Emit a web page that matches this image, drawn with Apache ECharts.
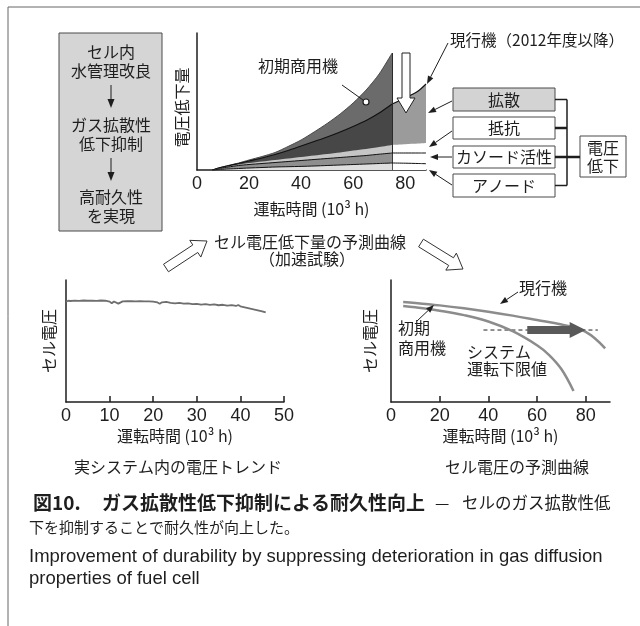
<!DOCTYPE html>
<html><head><meta charset="utf-8">
<script src="https://cdn.jsdelivr.net/npm/echarts@6/dist/echarts.min.js"></script>
<style>html,body{margin:0;padding:0;background:#fff}#c{width:640px;height:626px}</style>
</head><body><div id="c"></div>
<script>
// ---------------- data ----------------
// top chart: voltage drop components (arbitrary units) vs operating time (10^3 h)
const topTickLabels = [0, 20, 40, 60, 80];
const topTickMarks = [20, 40, 60, 80];
const initX      = [6, 9, 12, 16, 20, 25, 30, 35, 40, 45, 50, 55, 60, 65, 70, 75];
const initTotal  = [0, 2.5, 4.5, 7, 10, 13.5, 17.5, 23.5, 30, 38, 46.5, 56, 67, 80, 96, 117];
const initDiff   = [0, 2.3, 4.2, 6.5, 9, 12, 15.5, 19.5, 24, 28.5, 33, 38, 43.5, 49.5, 57, 66];
const initRes    = [0, 2, 3.5, 5.5, 7, 8.5, 10, 11.5, 13, 14.5, 16, 17.5, 19.5, 21, 23, 25];
const initCath   = [0, 1.8, 3, 4.5, 5.5, 6.5, 7.5, 8.5, 9.5, 10.5, 11.5, 12.5, 13.5, 14.5, 15.8, 17];
const initAnode  = [0, 0.6, 1, 1.5, 2, 2.5, 3, 3.3, 3.6, 4, 4.5, 5, 5.5, 6, 6.5, 7];
const curX       = [75, 80, 85, 88];
const curDiff    = [66, 72, 79, 86];
const curRes     = [25, 25.7, 26.4, 27];
const curCath    = [17, 17, 17, 17];
const curAnode   = [7, 6.8, 6.5, 6.3];
const splitX     = 75;

// bottom-left: measured cell voltage trend in real system
const bottomLeftTicks = [0, 10, 20, 30, 40, 50];
const trendX = [0,0.5,1,2,3,4,5,6,7,8,9,10,10.5,11,12,13,14,15,16,17,18,19,20,21,21.5,22,23,24,25,26,27,28,29,30,31,32,33,34,35,36,37,38,39,39.5,40,41,42,43,44,45,45.8];
const trendY = [82.2,83.0,82.8,83.1,82.9,83.2,83.0,83.1,82.9,83.2,83.0,82.3,80.9,82.4,80.6,82.5,82.7,82.6,82.5,82.6,82.4,82.5,82.3,81.6,80.6,81.7,82.0,81.3,80.9,81.2,80.6,80.9,80.3,80.5,79.8,80.2,79.6,80.0,79.3,79.7,79.0,79.4,78.7,79.5,78.4,77.6,76.8,76.0,75.2,74.3,73.4];

// bottom-right: predicted cell voltage curves
const bottomRightTicks = [0, 20, 40, 60, 80];
const predCurX   = [5, 10, 20, 30, 40, 50, 60, 70, 80, 88];
const predCurY   = [82, 81.2, 79.2, 76.8, 74, 70.8, 67.2, 63.5, 57.5, 44];
const predInitX  = [5, 10, 20, 30, 40, 50, 60, 65, 70, 75];
const predInitY  = [78.7, 77.6, 74.8, 71.2, 66, 58, 46.5, 38.5, 27, 9];
const limitY     = 59;
const limitXRange = [38, 85];
const shiftArrowX = [56, 80];

// ---------------- helpers ----------------
const JP = '"Noto Sans CJK JP", sans-serif';
const NUM = '"Liberation Sans", "Noto Sans CJK JP", sans-serif';
const INK = '#1e1e1e';
const pairs = (xs, ys) => xs.map((x, i) => [x, ys[i]]);

function areaSeries(xs, ys, fill, lineColor, lineWidth, z) {
  return {
    type: 'line', xAxisIndex: 0, yAxisIndex: 0, data: pairs(xs, ys),
    symbol: 'none', smooth: 0.25, z: z,
    lineStyle: { color: lineColor, width: lineWidth },
    areaStyle: fill ? { color: fill, opacity: 1 } : undefined,
    silent: true, animation: false
  };
}

function xAxisBase(grid, max, labels, ticks, nameGap) {
  return {
    type: 'value', gridIndex: grid, min: 0, max: max,
    name: '運転時間 (10³ h)', nameLocation: 'middle', nameGap: nameGap,
    nameTextStyle: { fontFamily: JP, fontSize: 16, color: INK },
    axisLine: { show: true, onZero: false, lineStyle: { color: INK, width: 1.5 } },
    axisTick: { show: true, inside: true, length: 6, customValues: ticks, lineStyle: { color: INK, width: 1.5 } },
    axisLabel: { show: true, margin: 5, customValues: labels, fontFamily: NUM, fontSize: 18, color: INK },
    splitLine: { show: false }
  };
}
function yAxisBase(grid, max, name, nameGap, pad) {
  return {
    type: 'value', gridIndex: grid, min: 0, max: max,
    name: name, nameLocation: 'middle', nameGap: nameGap, nameRotate: 90,
    nameTextStyle: { fontFamily: JP, fontSize: 16, color: INK, padding: pad },
    axisLine: { show: true, onZero: false, lineStyle: { color: INK, width: 1.5 } },
    axisTick: { show: false }, axisLabel: { show: false }, splitLine: { show: false }
  };
}

function txt(text, x, y, opt) {
  opt = opt || {};
  return {
    type: 'text', z: 120, silent: true,
    style: {
      text: text, x: x, y: y, fill: opt.fill || INK,
      font: (opt.weight || 'normal') + ' ' + (opt.size || 16) + 'px ' + (opt.family || JP),
      textAlign: opt.align || 'center', textVerticalAlign: 'middle'
    }
  };
}
function line(x1, y1, x2, y2, w, c) {
  return { type: 'line', z: 110, silent: true, shape: { x1, y1, x2, y2 }, style: { stroke: c || INK, lineWidth: w || 1 } };
}
function arrow(x1, y1, x2, y2, hl, hw, c) {
  hl = hl || 8; hw = hw || 3.5; c = c || INK;
  const a = Math.atan2(y2 - y1, x2 - x1), ux = Math.cos(a), uy = Math.sin(a);
  const bx = x2 - hl * ux, by = y2 - hl * uy, nx = -uy * hw, ny = ux * hw;
  return [
    line(x1, y1, bx, by, 1, c),
    { type: 'polygon', z: 111, silent: true, shape: { points: [[x2, y2], [bx + nx, by + ny], [bx - nx, by - ny]] }, style: { fill: c } }
  ];
}
function blockArrow(x1, y1, x2, y2, sw, hw, hl, fill, stroke) {
  const a = Math.atan2(y2 - y1, x2 - x1), ux = Math.cos(a), uy = Math.sin(a), nx = -uy, ny = ux;
  const bx = x2 - hl * ux, by = y2 - hl * uy;
  const p = (x, y, s) => [x + nx * s, y + ny * s];
  return {
    type: 'polygon', z: 115, silent: true,
    shape: { points: [p(x1, y1, sw / 2), p(bx, by, sw / 2), p(bx, by, hw / 2), [x2, y2], p(bx, by, -hw / 2), p(bx, by, -sw / 2), p(x1, y1, -sw / 2)] },
    style: { fill: fill, stroke: stroke || null, lineWidth: stroke ? 1 : 0 }
  };
}
function box(x, y, w, h, fill) {
  return { type: 'rect', z: 105, silent: true, shape: { x, y, width: w, height: h }, style: { fill: fill, stroke: '#4a4a4a', lineWidth: 1 } };
}

// ---------------- chart ----------------
const chart = echarts.init(document.getElementById('c'), null, { renderer: 'canvas' });

const option = {
  animation: false,
  backgroundColor: '#ffffff',
  grid: [
    { left: 197, top: 33, width: 229, height: 137, outerBoundsMode: 'none', containLabel: false },
    { left: 66, top: 280, width: 218, height: 122, outerBoundsMode: 'none', containLabel: false },
    { left: 391, top: 280, width: 219, height: 122, outerBoundsMode: 'none', containLabel: false }
  ],
  xAxis: [
    xAxisBase(0, 88, topTickLabels, topTickMarks, 31),
    xAxisBase(1, 50, bottomLeftTicks, bottomLeftTicks.slice(1), 26),
    xAxisBase(2, 90, bottomRightTicks, bottomRightTicks.slice(1), 26)
  ],
  yAxis: [
    yAxisBase(0, 137, '電圧低下量', 7, [0, 12, 0, 0]),
    yAxisBase(1, 100, 'セル電圧', 9, 0),
    yAxisBase(2, 100, 'セル電圧', 13, 0)
  ],
  series: [
    // initial commercial model region
    areaSeries(initX, initTotal, '#6b6b6b', '#4a4a4a', 1, 2),
    areaSeries(initX, initDiff, '#474747', '#111111', 1.2, 3),
    areaSeries(initX, initRes, '#c6c6c6', '#c6c6c6', 0, 4),
    areaSeries(initX, initCath, '#8f8f8f', '#111111', 1, 5),
    areaSeries(initX, initAnode, '#dedede', '#111111', 1, 6),
    // current model region
    Object.assign(areaSeries(curX, curDiff, '#9b9b9b', '#111111', 1.2, 2), {
      markLine: {
        silent: true, symbol: 'none', label: { show: false },
        lineStyle: { color: '#2a2a2a', width: 1, type: 'solid' },
        data: [[{ coord: [splitX, 0] }, { coord: [splitX, initTotal[initTotal.length - 1]] }]]
      }
    }),
    areaSeries(curX, curRes, '#ffffff', '#9b9b9b', 0, 3),
    areaSeries(curX, curCath, null, '#111111', 1, 5),
    areaSeries(curX, curAnode, null, '#111111', 1, 6),
    // bottom-left trend
    {
      type: 'line', xAxisIndex: 1, yAxisIndex: 1, data: pairs(trendX, trendY),
      symbol: 'none', lineStyle: { color: '#6e6e6e', width: 1.8 }, silent: true, z: 3
    },
    // bottom-right predicted curves
    {
      type: 'line', xAxisIndex: 2, yAxisIndex: 2, data: pairs(predCurX, predCurY),
      symbol: 'none', smooth: 0.4, lineStyle: { color: '#8c8c8c', width: 2.5 }, silent: true, z: 3
    },
    {
      type: 'line', xAxisIndex: 2, yAxisIndex: 2, data: pairs(predInitX, predInitY),
      symbol: 'none', smooth: 0.4, lineStyle: { color: '#8c8c8c', width: 2.5 }, silent: true, z: 3
    },
    {
      type: 'line', xAxisIndex: 2, yAxisIndex: 2, data: [[limitXRange[0], limitY], [limitXRange[1], limitY]],
      symbol: 'none', lineStyle: { color: '#222', width: 1, type: [4, 3] }, silent: true, z: 2
    }
  ]
};
chart.setOption(option);

// annotation graphics
const g = [];
// outer frame
g.push(line(8, 7, 640, 7, 1, '#666'), line(8, 7, 8, 626, 1, '#666'));
// left process box
g.push(box(59, 33, 103, 198, '#d5d5d5'));
g.push(txt('セル内', 111, 52), txt('水管理改良', 111, 71));
g.push(...arrow(111, 85, 111, 108, 9, 3.5));
g.push(txt('ガス拡散性', 111, 125), txt('低下抑制', 111, 144));
g.push(...arrow(111, 158, 111, 181, 9, 3.5));
g.push(txt('高耐久性', 111, 197), txt('を実現', 111, 216));
// top chart labels
g.push(txt('初期商用機', 298, 66));
g.push(line(342, 85, 363, 100, 1));
g.push({ type: 'circle', z: 112, silent: true, shape: { cx: 366, cy: 102, r: 3 }, style: { fill: '#fff', stroke: INK, lineWidth: 1.2 } });
g.push(txt('現行機（2012年度以降）', 537, 40, { size: 15.5 }));
g.push(...arrow(448, 43, 427, 84, 8, 3));
g.push(blockArrow(406, 53, 406, 113, 8, 18, 15, '#ffffff', '#222'));
// component boxes
g.push(box(453, 88, 102, 23, '#d3d3d3'), txt('拡散', 504, 100));
g.push(box(453, 117, 102, 22, '#ffffff'), txt('抵抗', 504, 128));
g.push(box(453, 146, 102, 22, '#ffffff'), txt('カソード活性', 504, 157));
g.push(box(453, 174, 102, 23, '#ffffff'), txt('アノード', 504, 185.5));
g.push(...arrow(452, 101, 428, 113, 8, 3));
g.push(...arrow(452, 131, 429, 147, 8, 3));
g.push(...arrow(452, 157, 430, 157, 8, 3));
g.push(...arrow(452, 185, 429, 170, 8, 3));
// bracket
g.push(line(555, 99.5, 567, 99.5, 1.5), line(567, 99.5, 567, 185.5, 1.5), line(555, 185.5, 567, 185.5, 1.5));
g.push(line(555, 128, 567, 128, 2.5), line(555, 157, 580, 157, 2.5));
g.push(box(580, 136, 46, 41, '#ffffff'), txt('電圧', 603, 148), txt('低下', 603, 166));
// middle texts and block arrows
g.push(txt('セル電圧低下量の予測曲線', 310, 242), txt('（加速試験）', 307, 259));
g.push(blockArrow(166, 268, 207, 241, 9, 20, 14, '#ffffff', '#333'));
g.push(blockArrow(421, 243, 463, 269, 9, 20, 14, '#ffffff', '#333'));
// bottom-left subtitle
g.push(txt('実システム内の電圧トレンド', 178, 467));
// bottom-right annotations
g.push(txt('現行機', 543, 288));
g.push(...arrow(518, 292, 500, 304, 8, 3));
g.push(txt('初期', 398, 328, { align: 'left' }), txt('商用機', 398, 348, { align: 'left' }));
g.push(...arrow(417, 321, 434, 305, 8, 3));
g.push(txt('システム', 467, 352, { align: 'left' }), txt('運転下限値', 467, 369, { align: 'left' }));
g.push(txt('セル電圧の予測曲線', 517, 467));
// thick shift arrow on the bottom-right chart (placed from data coordinates)
const pa = chart.convertToPixel({ gridIndex: 2 }, [shiftArrowX[0], limitY]);
const pb = chart.convertToPixel({ gridIndex: 2 }, [shiftArrowX[1], limitY]);
g.push(blockArrow(pa[0], pa[1], pb[0], pb[1], 8, 16, 16, '#595959', null));
// caption
g.push(txt('図10.', 33, 503, { align: 'left', weight: 'bold', size: 19 }));
g.push(txt('ガス拡散性低下抑制による耐久性向上', 102, 503, { align: 'left', weight: 'bold', size: 19 }));
g.push(txt('—', 435, 503, { align: 'left', size: 16 }));
g.push(txt('セルのガス拡散性低', 462, 503, { align: 'left', size: 16.5 }));
g.push(txt('下を抑制することで耐久性が向上した。', 29, 527, { align: 'left', size: 15 }));
const EN = '"Liberation Sans", sans-serif';
g.push(txt('Improvement of durability by suppressing deterioration in gas diffusion', 29, 557, { align: 'left', size: 18.5, family: EN }));
g.push(txt('properties of fuel cell', 29, 579, { align: 'left', size: 18.5, family: EN }));

chart.setOption({ graphic: { elements: g } });
</script></body></html>
